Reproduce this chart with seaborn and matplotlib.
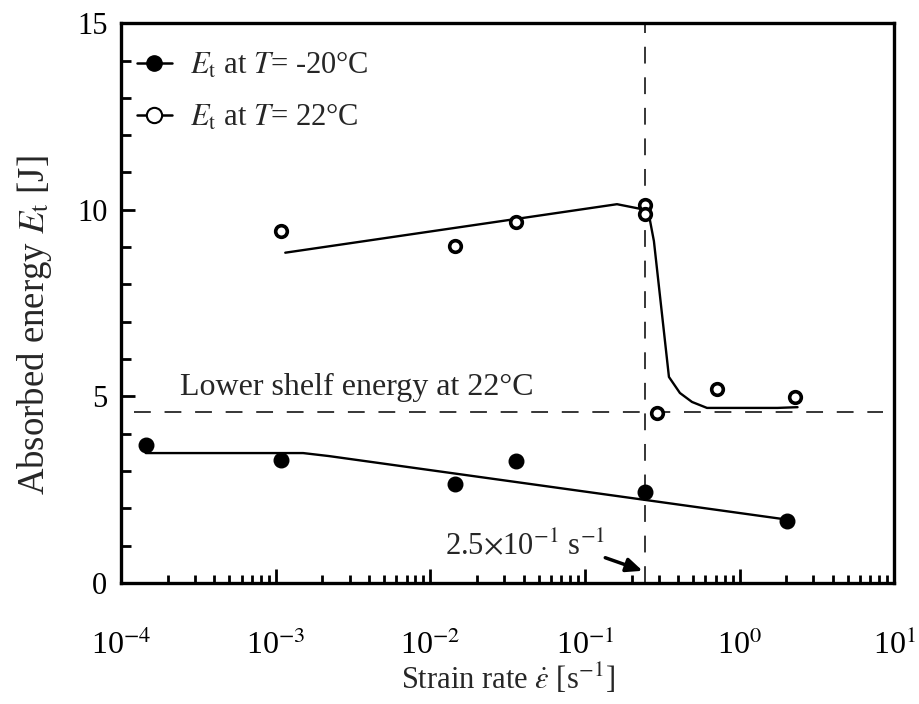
import numpy as np
import pandas as pd
import matplotlib
matplotlib.use("Agg")
import matplotlib.pyplot as plt
import seaborn as sns
from matplotlib.lines import Line2D
from matplotlib.ticker import LogLocator, MultipleLocator, NullFormatter

# ---- data ----
rate_cold = [1.44e-4, 1.08e-3, 1.45e-2, 3.6e-2, 0.245, 2.04]
energy_cold = [3.70, 3.30, 2.65, 3.27, 2.44, 1.66]

rate_warm = [1.08e-3, 1.45e-2, 3.6e-2, 0.245, 0.245, 0.29, 0.71, 2.27]
energy_warm = [9.43, 9.03, 9.67, 10.13, 9.88, 4.55, 5.20, 4.98]

fit_cold_x = [1.44e-4, 1.5e-3, 2.2e-3, 2.0]
fit_cold_y = [3.48, 3.48, 3.40, 1.70]

fit_warm_x = [1.15e-3, 0.161, 0.245, 0.263, 0.279, 0.349, 0.411, 0.492, 0.615, 1.76, 2.37]
fit_warm_y = [8.85, 10.15, 10.0, 9.72, 9.16, 5.52, 5.09, 4.85, 4.69, 4.69, 4.71]

xtick_vals = [1e-4, 1e-3, 1e-2, 1e-1, 1e0, 1e1]
xtick_labels = [r"10$^{-4}$", r"10$^{-3}$", r"10$^{-2}$", r"10$^{-1}$", r"10$^{0}$", r"10$^{1}$"]

lower_shelf = 4.58
transition_rate = 0.245

sns.set_theme(style="ticks")
plt.rcParams['font.family'] = ['Liberation Serif', 'DejaVu Serif']
plt.rcParams['mathtext.fontset'] = 'stix'

fig = plt.figure(figsize=(9.19, 7.04), dpi=100)
ax = fig.add_axes([0.132, 0.172, 0.841, 0.795])

df_c = pd.DataFrame({"x": rate_cold, "y": energy_cold})
df_w = pd.DataFrame({"x": rate_warm, "y": energy_warm})
df_fc = pd.DataFrame({"x": fit_cold_x, "y": fit_cold_y})
df_fw = pd.DataFrame({"x": fit_warm_x, "y": fit_warm_y})

sns.lineplot(data=df_fc, x="x", y="y", ax=ax, color="black", lw=1.7, sort=False)
sns.lineplot(data=df_fw, x="x", y="y", ax=ax, color="black", lw=1.7, sort=False)
sns.scatterplot(data=df_c, x="x", y="y", ax=ax, color="black", s=110,
                edgecolor="black", linewidth=1, zorder=5)
sns.scatterplot(data=df_w, x="x", y="y", ax=ax, facecolor="white", s=70,
                edgecolor="black", linewidth=2.6, zorder=5)

ax.set_xscale("log")
ax.set_xlim(1e-4, 1e1)
ax.set_ylim(0, 15)

# reference lines
ax.plot([1.2e-4, 8.5], [lower_shelf, lower_shelf], ls=(0, (11, 9)), color="black", lw=1.1)
ax.plot([transition_rate, transition_rate], [0, 15], ls=(0, (11, 9)), color="black", lw=1.1)

ax.text(2.4e-4, 5.04, "Lower shelf energy at 22°C", fontsize=23, ha="left", va="baseline")
ax.annotate("", xy=(transition_rate, 0.3), xytext=(0.13, 0.7),
            arrowprops=dict(arrowstyle="-|>,head_length=0.8,head_width=0.35",
                            color="black", lw=2.5))
ax.text(1.25e-2, 1.0, r"2.5$\times$10$^{-1}$ s$^{-1}$", fontsize=22, ha="left", va="center")

# ticks
ax.set_xticks(xtick_vals)
ax.set_xticklabels(xtick_labels)
ax.xaxis.set_minor_locator(LogLocator(base=10, subs=np.arange(2, 10), numticks=100))
ax.xaxis.set_minor_formatter(NullFormatter())
ax.yaxis.set_major_locator(MultipleLocator(5))
ax.yaxis.set_minor_locator(MultipleLocator(1))
ax.tick_params(which="both", direction="in", width=2, colors="black")
ax.tick_params(which="major", length=10)
ax.tick_params(which="minor", length=6)
ax.tick_params(axis="y", which="minor", length=7)
ax.tick_params(axis="x", which="major", labelsize=23, pad=34)
ax.tick_params(axis="y", which="major", labelsize=22, pad=10)

for s in ax.spines.values():
    s.set_linewidth(2.4)
    s.set_color("black")
    s.set_visible(True)

ax.set_xlabel(r"Strain rate $\dot{\varepsilon}$ [s$^{-1}$]", fontsize=22, labelpad=0)
ax.set_ylabel(r"Absorbed energy $E_{\rm t}$ [J]", fontsize=26.5, labelpad=10)
ax.yaxis.set_label_coords(-0.087, 0.46)

handles = [
    Line2D([], [], color="black", lw=1.8, marker="o", markersize=11,
           markerfacecolor="black", markeredgecolor="black"),
    Line2D([], [], color="black", lw=1.8, marker="o", markersize=11,
           markerfacecolor="white", markeredgecolor="black", markeredgewidth=1.5),
]
labels = [r"$E_{\rm t}$ at $T$= -20°C", r"$E_{\rm t}$ at $T$= 22°C"]
ax.legend(handles, labels, loc="upper left", frameon=False, fontsize=22,
          handlelength=1.15, handletextpad=0.6, borderaxespad=0.3, labelspacing=0.72,
          bbox_to_anchor=(-0.008, 0.99))

fig.savefig("out.png", dpi=100)
